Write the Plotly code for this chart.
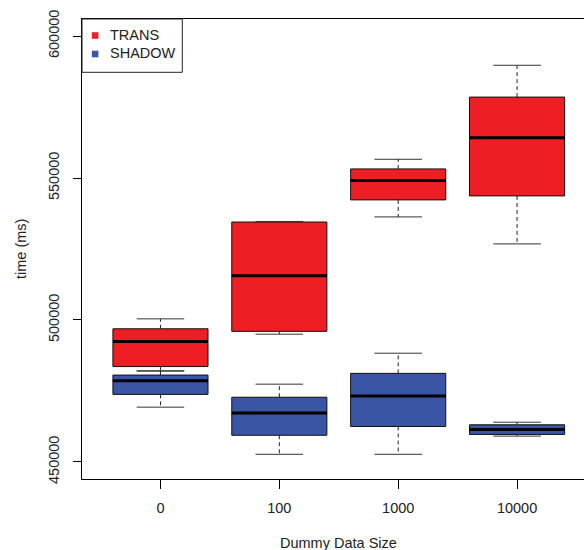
import plotly.graph_objects as go

categories = ["0", "100", "1000", "10000"]

trans_lower = [482100, 495000, 536300, 526800]
trans_q1 = [483600, 496000, 542300, 543700]
trans_median = [492400, 515600, 549100, 564200]
trans_q3 = [496900, 534500, 553200, 578500]
trans_upper = [500400, 534700, 556600, 589700]

shadow_lower = [469300, 452700, 452700, 459100]
shadow_q1 = [473800, 459400, 462500, 459700]
shadow_median = [478600, 467200, 473200, 461400]
shadow_q3 = [480600, 472800, 481200, 463100]
shadow_upper = [482000, 477400, 488300, 464000]

y_ticks = [450000, 500000, 550000, 600000]
series_names = ["TRANS", "SHADOW"]

RED = "#EE1F24"
BLUE = "#3A55A4"
FONT = "Liberation Sans, Arial, sans-serif"
FS = 14.5
TXT = "#222222"

# plot area geometry (pixels)
L, T, W, H = 82, 19, 502, 460


def px_x(p):
    return (p - L) / W


def px_y(p):
    return (T + H - p) / H


fig = go.Figure()
xs = list(range(len(categories)))


def add_series(name, color, lo, q1, med, q3, hi):
    for i in xs:
        fig.add_trace(go.Box(
            x=[i], q1=[q1[i]], median=[med[i]], q3=[q3[i]],
            lowerfence=[q1[i]], upperfence=[q3[i]],
            width=0.8, whiskerwidth=0, fillcolor=color,
            line=dict(color="#111111", width=1), name=name,
            boxpoints=False, showlegend=False, hoverinfo="skip"))
    wx, wy = [], []
    for i in xs:
        wx += [i, i, None, i, i, None]
        wy += [q3[i], hi[i], None, q1[i], lo[i], None]
    fig.add_trace(go.Scatter(x=wx, y=wy, mode="lines",
                             line=dict(color="#222222", width=1, dash="4px,3px"),
                             showlegend=False, hoverinfo="skip"))
    cx, cy = [], []
    for i in xs:
        cx += [i - 0.2, i + 0.2, None, i - 0.2, i + 0.2, None]
        cy += [hi[i], hi[i], None, lo[i], lo[i], None]
    fig.add_trace(go.Scatter(x=cx, y=cy, mode="lines",
                             line=dict(color="#333333", width=1),
                             showlegend=False, hoverinfo="skip"))
    mx, my = [], []
    for i in xs:
        mx += [i - 0.4, i + 0.4, None]
        my += [med[i], med[i], None]
    fig.add_trace(go.Scatter(x=mx, y=my, mode="lines",
                             line=dict(color="black", width=3),
                             showlegend=False, hoverinfo="skip"))


add_series(series_names[0], RED, trans_lower, trans_q1, trans_median, trans_q3, trans_upper)
add_series(series_names[1], BLUE, shadow_lower, shadow_q1, shadow_median, shadow_q3, shadow_upper)

# legend (R style): framed box with filled squares and labels
shapes = [dict(type="rect", xref="paper", yref="paper",
               x0=px_x(82), x1=px_x(182.3), y0=px_y(72.3), y1=px_y(19),
               line=dict(color="#222222", width=1), fillcolor="white", layer="above")]
annotations = []
for k, (name, color) in enumerate(zip(series_names, [RED, BLUE])):
    cy = 35.5 + k * 18.5
    shapes.append(dict(type="rect", xref="paper", yref="paper",
                       x0=px_x(91.8), x1=px_x(98.4), y0=px_y(cy + 3.3), y1=px_y(cy - 3.3),
                       line=dict(width=0), fillcolor=color, layer="above"))
    annotations.append(dict(text=name, xref="paper", yref="paper",
                            x=px_x(108), y=px_y(cy - 0.5), xanchor="left", yanchor="middle",
                            showarrow=False, font=dict(family=FONT, size=FS, color=TXT)))

annotations += [
    dict(text="Dummy Data Size", xref="paper", yref="paper",
         x=px_x(338.7), y=px_y(542.7),
         xanchor="center", yanchor="middle", showarrow=False,
         font=dict(family=FONT, size=FS, color=TXT)),
    dict(text="time (ms)", xref="paper", yref="paper",
         x=px_x(21), y=0.5, textangle=-90,
         xanchor="center", yanchor="middle", showarrow=False,
         font=dict(family=FONT, size=FS, color=TXT)),
]

fig.update_layout(
    width=584, height=550,
    margin=dict(l=L, r=584 - L - W, t=T, b=550 - T - H),
    paper_bgcolor="white", plot_bgcolor="white",
    font=dict(family=FONT, size=FS, color=TXT),
    showlegend=False,
    xaxis=dict(range=[-0.66, 3.563], tickvals=xs, ticktext=categories,
               ticks="outside", ticklen=9, tickcolor="black",
               showline=True, linecolor="black", linewidth=1, mirror=True,
               showgrid=False, zeroline=False, ticklabelstandoff=7),
    yaxis=dict(range=[444000, 606000], tickvals=y_ticks,
               ticktext=[str(v) for v in y_ticks], tickangle=-90,
               ticks="outside", ticklen=8, tickcolor="black",
               showline=True, linecolor="black", linewidth=1,
               showgrid=False, zeroline=False, ticklabelstandoff=8),
    shapes=shapes,
    annotations=annotations,
)

fig.write_html(
    "out.html",
    config={"displayModeBar": False},
    post_script="document.body.style.margin='0';document.body.style.overflow='hidden';",
)
